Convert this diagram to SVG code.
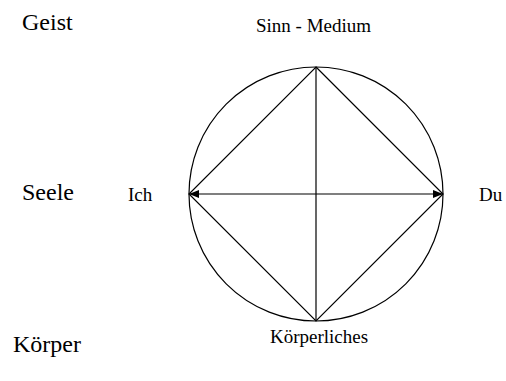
<svg xmlns="http://www.w3.org/2000/svg" width="506" height="381" viewBox="0 0 506 381">
<style>
text{font-family:"Liberation Serif","Times New Roman","DejaVu Serif",serif;fill:#000}
.big{font-size:24px}
.small{font-size:19px}
.ln{stroke:#000;stroke-width:1.2;fill:none}
</style>
<defs>
<marker id="ah" viewBox="0 0 10 8" refX="10" refY="4" markerWidth="10" markerHeight="8" markerUnits="userSpaceOnUse" orient="auto-start-reverse">
<path d="M0,0 L10,4 L0,8 Z" fill="#000"/>
</marker>
</defs>
<rect width="506" height="381" fill="#fff"/>
<g id="connectors">
<circle class="ln" cx="316" cy="194" r="127"/>
<path class="ln" d="M316,67 L443,194 L316,321 L189,194 Z"/>
<line class="ln" x1="316" y1="67" x2="316" y2="321"/>
<line class="ln" x1="189" y1="194" x2="443" y2="194" marker-start="url(#ah)" marker-end="url(#ah)"/>
</g>
<g id="geist"><text class="big" x="22" y="30" font-family="Liberation Serif, serif">Geist</text></g>
<g id="seele"><text class="big" x="22" y="200" font-family="Liberation Serif, serif">Seele</text></g>
<g id="koerper"><text class="big" x="13" y="352" font-family="Liberation Serif, serif">Körper</text></g>
<g id="sinn"><text class="small" x="256" y="32" font-family="Liberation Serif, serif">Sinn - Medium</text></g>
<g id="ich"><text class="small" x="128" y="201" font-family="Liberation Serif, serif">Ich</text></g>
<g id="du"><text class="small" x="479" y="201" font-family="Liberation Serif, serif">Du</text></g>
<g id="koerperliches"><text class="small" x="270" y="343" font-family="Liberation Serif, serif">Körperliches</text></g>
</svg>
